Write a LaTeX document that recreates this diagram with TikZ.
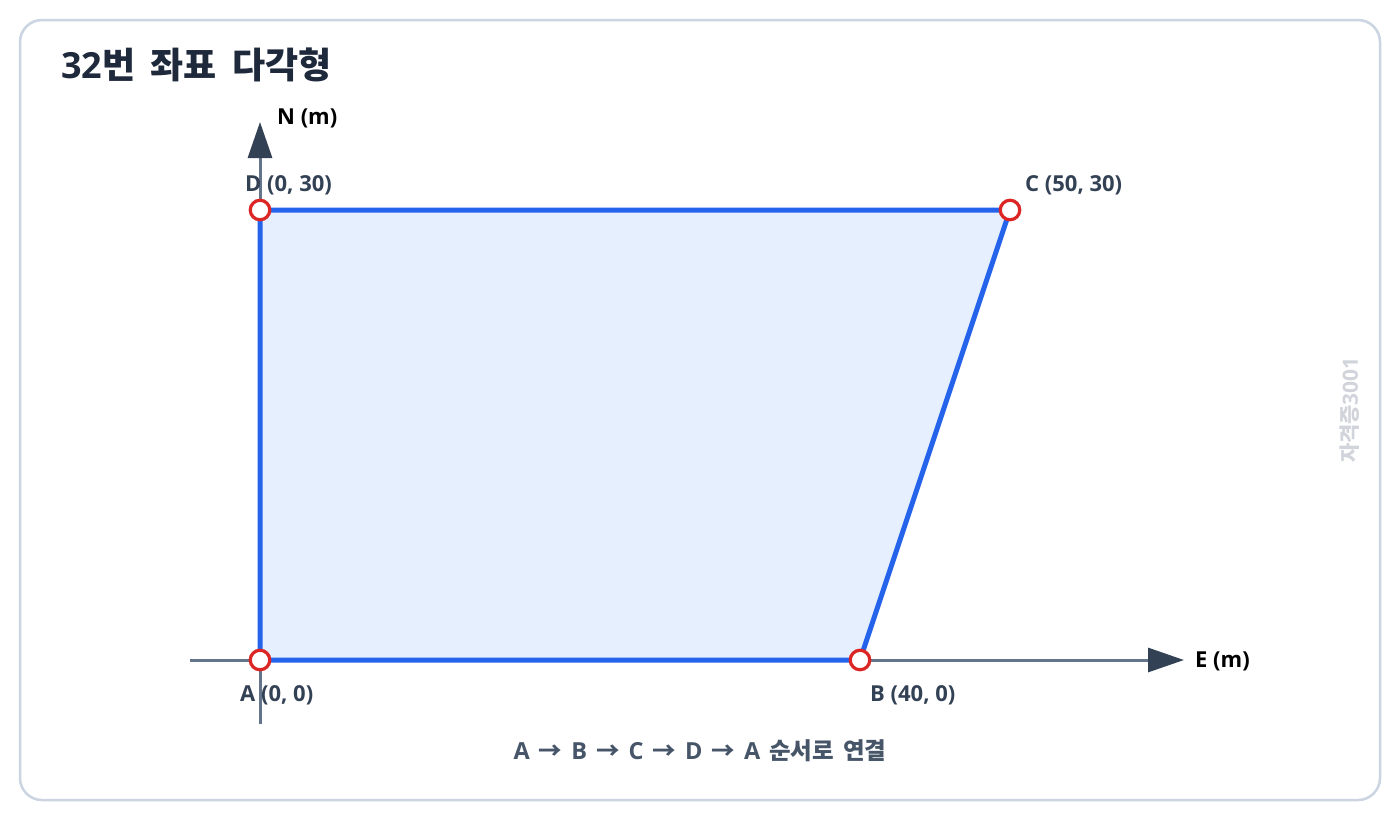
\documentclass[tikz,border=0pt]{standalone}
\usepackage{fontspec}
\setmainfont{Open Sans}
\newfontfamily\kr{Noto Sans CJK KR}
\usetikzlibrary{arrows.meta}
\definecolor{cardline}{HTML}{CBD5E1}
\definecolor{axisc}{HTML}{64748B}
\definecolor{headc}{HTML}{334155}
\definecolor{polyc}{HTML}{2563EB}
\definecolor{polyfill}{HTML}{E5EFFD}
\definecolor{ptc}{HTML}{DC2626}
\definecolor{titlec}{HTML}{1E293B}
\definecolor{labc}{HTML}{334155}
\definecolor{capc}{HTML}{475569}
\definecolor{wmc}{HTML}{D1D5DB}
\newcommand{\myarr}{\hspace{9pt}{\kr →}\hspace{9pt}}
\newcommand{\mygap}{\hspace{9pt}}
\tikzset{
  axisline/.style={draw=axisc, line width=3pt, -{Triangle[length=36pt,width=24pt,color=headc]}},
  vertexpt/.style={circle, draw=ptc, fill=white, line width=3.2pt, minimum size=19.5pt, inner sep=0pt},
  ptlabel/.style={font=\fontsize{22}{24}\selectfont\bfseries, text=labc, inner sep=0pt, anchor=west},
}
\begin{document}
\begin{tikzpicture}[x=1pt,y=-1pt]
\useasboundingbox (0,0) rectangle (1400,820);
\fill[white] (0,0) rectangle (1400,820);
\draw[cardline, line width=2.5pt, rounded corners=22pt] (20,20) rectangle (1380,800);
\node[anchor=west, inner sep=0pt, font=\fontsize{36}{40}\selectfont\bfseries, text=titlec] (title) at (61,65) {32{\kr 번\hspace{7pt} 좌표\hspace{7pt} 다각형}};
% axes
\coordinate (xs) at (190,660);
\coordinate (xe) at (1184,660);
\coordinate (ys) at (260,724);
\coordinate (ye) at (260,122);
\draw[axisline] (xs) -- (xe);
\draw[axisline] (ys) -- (ye);
\node[anchor=west, inner sep=0pt, font=\fontsize{22}{24}\selectfont\bfseries, text=black] (nlab) at (277,118) {N (m)};
\node[anchor=west, inner sep=0pt, font=\fontsize{22}{24}\selectfont\bfseries, text=black] (elab) at (1195,661) {E (m)};
% polygon
\coordinate (A) at (260,660);
\coordinate (B) at (860,660);
\coordinate (C) at (1010,210);
\coordinate (D) at (260,210);
\draw[polyc, fill=polyfill, line width=5pt, line join=round] (A) -- (B) -- (C) -- (D) -- cycle;
\node[vertexpt] (pA) at (A) {};
\node[vertexpt] (pB) at (B) {};
\node[vertexpt] (pC) at (C) {};
\node[vertexpt] (pD) at (D) {};
\node[ptlabel] (lD) at (245,185) {D (0, 30)};
\node[ptlabel] (lC) at (1025,185) {C (50, 30)};
\node[ptlabel] (lA) at (240,695) {A (0, 0)};
\node[ptlabel] (lB) at (870,695) {B (40, 0)};
\node[font=\fontsize{23.5}{26}\selectfont\bfseries, text=capc, inner sep=0pt] (cap) at (700,751) {A\myarr B\myarr C\myarr D\myarr A\mygap{\kr 순서로\mygap 연결}};
\node[rotate=90, font=\fontsize{21}{22}\selectfont\bfseries, text=wmc, inner sep=0pt] (wm) at (1350,410) {{\kr 자격증}3001};
\end{tikzpicture}
\end{document}
